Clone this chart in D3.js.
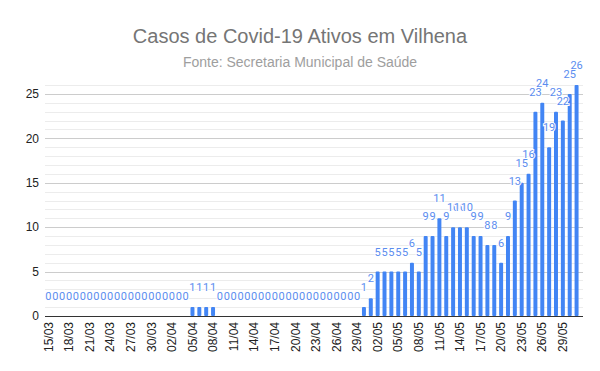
<!DOCTYPE html>
<html>
<head>
<meta charset="utf-8">
<script src="https://cdn.jsdelivr.net/npm/d3@7"></script>
<style>
  body { margin: 0; background: #fff; }
  text { font-family: Roboto, "Liberation Sans", Arial, sans-serif; }
</style>
</head>
<body>
<div id="d3"></div>
<script>
// one bar per day, 15/03 to 31/05
const startDate = new Date(2020, 2, 15)
const activeCases = [
    // 15/03 - 04/04
    0, 0, 0, 0, 0, 0, 0, 0, 0, 0, 0, 0, 0, 0, 0, 0, 0, 0, 0, 0, 0,
    // 05/04 - 08/04
    1, 1, 1, 1,
    // 09/04 - 29/04
    0, 0, 0, 0, 0, 0, 0, 0, 0, 0, 0, 0, 0, 0, 0, 0, 0, 0, 0, 0, 0,
    // 30/04 - 01/05
    1, 2,
    // 02/05 - 31/05
    5, 5, 5, 5, 5, 6, 5, 9, 9, 11, 9, 10, 10, 10, 9, 9, 8, 8, 6, 9,
    13, 15, 16, 23, 24, 19, 23, 22, 25, 26
]
const yTicks = [0, 5, 10, 15, 20, 25]

const fmt = d3.timeFormat("%d/%m")
const days = activeCases.map((v, i) => fmt(d3.timeDay.offset(startDate, i)))
const data = days.map((day, i) => ({day, value: activeCases[i]}))

const width = 600
const height = 371
const margin = {top: 85, right: 20, bottom: 55, left: 45}
const sans = "'Liberation Sans', Arial, sans-serif"

const svg = d3.select("#d3").append("svg")
    .attr("width", width)
    .attr("height", height)

const x = d3.scaleBand()
    .domain(days)
    .range([margin.left, 580])
    .paddingInner(0.42)
    .paddingOuter(0.21)
const y = d3.scaleLinear()
    .domain([0, 26])
    .range([height - margin.bottom, margin.top])

// titre
svg.append("text")
    .attr("x", 300).attr("y", 43)
    .attr("text-anchor", "middle")
    .style("font-family", sans)
    .style("font-size", "20px")
    .style("fill", "#757575")
    .text("Casos de Covid-19 Ativos em Vilhena")
svg.append("text")
    .attr("x", 300).attr("y", 67)
    .attr("text-anchor", "middle")
    .style("font-family", sans)
    .style("font-size", "14px")
    .style("fill", "#9e9e9e")
    .text("Fonte: Secretaria Municipal de Saúde")

// grille mineure puis majeure
svg.append("g")
    .selectAll("line")
    .data(d3.range(1, 27).filter(v => v % 5 !== 0))
    .enter().append("line")
    .attr("x1", margin.left).attr("x2", 583)
    .attr("y1", d => Math.round(y(d)) + 0.5).attr("y2", d => Math.round(y(d)) + 0.5)
    .style("stroke", "#ececec")
svg.append("g")
    .selectAll("line")
    .data(yTicks.filter(v => v > 0))
    .enter().append("line")
    .attr("x1", margin.left).attr("x2", 583)
    .attr("y1", d => Math.round(y(d)) + 0.5).attr("y2", d => Math.round(y(d)) + 0.5)
    .style("stroke", "#cccccc")

// axe Y
const yAxis = svg.append("g")
    .attr("transform", "translate(" + margin.left + ",0)")
    .call(d3.axisLeft(y).tickValues(yTicks).tickSize(0).tickPadding(6))
yAxis.select(".domain").remove()
yAxis.selectAll("text")
    .style("font-family", sans)
    .style("font-size", "12px")
    .style("fill", "#222")

// barres
svg.selectAll(".bar")
    .data(data)
    .enter()
    .append("rect")
    .attr("class", "bar")
    .attr("x", d => x(d.day))
    .attr("width", x.bandwidth())
    .attr("y", d => y(d.value))
    .attr("height", d => y(0) - y(d.value))
    .attr("rx", 1)
    .style("fill", "#4285f4")

// axe X
const xAxis = svg.append("g")
    .attr("transform", "translate(0," + y(0) + ")")
    .call(d3.axisBottom(x).tickValues(days.filter((d, i) => i % 3 === 0)).tickSize(0))
xAxis.select(".domain")
    .attr("d", "M" + margin.left + ",0.5H583")
    .style("stroke", "#333")
xAxis.selectAll("text")
    .style("font-family", sans)
    .style("font-size", "12px")
    .style("fill", "#222")
    .style("text-anchor", "end")
    .attr("dx", "-6px")
    .attr("dy", "0.35em")
    .attr("y", 0)
    .attr("transform", "rotate(-90)")

// étiquettes des valeurs
svg.selectAll(".label")
    .data(data)
    .enter()
    .append("text")
    .attr("class", "label")
    .attr("x", d => x(d.day) + x.bandwidth() / 2)
    .attr("y", d => y(d.value) - 16)
    .attr("text-anchor", "middle")
    .style("font-size", "11px")
    .style("fill", "#5b8def")
    .style("stroke", "#fff")
    .style("stroke-width", "2px")
    .style("paint-order", "stroke")
    .text(d => d.value)
</script>
</body>
</html>
